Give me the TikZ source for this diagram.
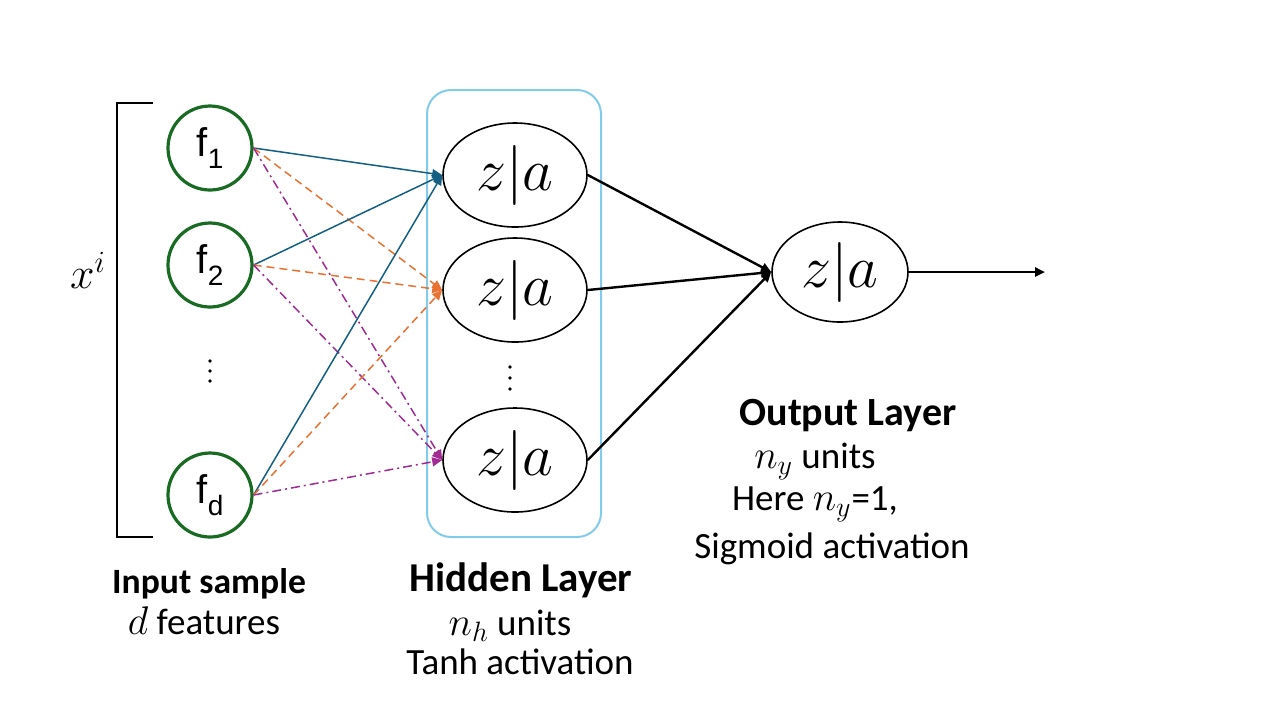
\RequirePackage{fix-cm}
\documentclass[tikz,border=0pt]{standalone}
\usepackage{fontspec}
\setmainfont{Carlito}
\newfontfamily\arialfont{Liberation Sans}
\usetikzlibrary{arrows.meta,shapes.geometric}

\definecolor{featgreen}{RGB}{25,107,36}
\definecolor{wblue}{RGB}{21,96,130}
\definecolor{worange}{RGB}{233,113,50}
\definecolor{wpurple}{RGB}{160,43,147}
\definecolor{boxblue}{RGB}{131,203,235}

\newcommand{\fsub}[1]{f\raisebox{-0.6ex}{\fontsize{14}{14}\selectfont #1}}
\newcommand{\lblmath}[1]{{\fontsize{20}{20}\selectfont$#1$}}

\tikzset{
  feat/.style={circle, draw=featgreen, line width=1.6pt, minimum size=42pt,
    inner sep=0pt, font=\arialfont\fontsize{20}{24}\selectfont},
  unit/.style={ellipse, draw, line width=0.8pt, minimum width=72pt,
    minimum height=52pt, inner sep=0pt, font=\fontsize{30}{32}\selectfont},
  wsolid/.style={wblue, line width=0.75pt, -{Triangle[length=5pt,width=4.5pt]}},
  wdash/.style={worange, line width=0.75pt, dash pattern=on 4pt off 2.5pt,
    -{Triangle[length=5pt,width=4.5pt]}},
  wdashdot/.style={wpurple, line width=0.75pt,
    dash pattern=on 4.5pt off 2pt on 1pt off 2pt,
    -{Triangle[length=5pt,width=4.5pt]}},
  wout/.style={line width=1.2pt, -{Triangle[length=5pt,width=4.5pt]}},
  lbl/.style={inner sep=0pt, font=\fontsize{18.5}{22}\selectfont},
  lblbold/.style={inner sep=0pt, font=\bfseries\fontsize{20.5}{24}\selectfont}
}

\begin{document}
\begin{tikzpicture}[x=0.5pt, y=-0.5pt]

  \useasboundingbox (0,0) rectangle (1280,720);

  % input sample bracket
  \draw[line width=0.8pt] (153,103) -- (117,103) -- (117,537) -- (153,537);
  \node[font=\fontsize{22}{24}\selectfont] (xi) at (88,270) {$x^i$};

  % hidden layer box
  \node[draw=boxblue, line width=1pt, rounded corners=12pt,
        minimum width=87pt, minimum height=223.5pt] (hbox) at (514,313.5) {};

  % input features
  \node[feat] (f1) at (210,148) {\fsub{1}};
  \node[feat] (f2) at (210,265) {\fsub{2}};
  \node[feat] (fd) at (210,495) {\fsub{d}};

  % hidden units
  \node[unit] (h1) at (515,175) {$z|a$};
  \node[unit] (h2) at (515,290) {$z|a$};
  \node[unit] (hn) at (515,460) {$z|a$};

  % vertical dots
  \foreach \y in {361,371,381} \fill (210,\y) circle (1.9);
  \foreach \y in {367,378,389} \fill (510,\y) circle (1.9);

  % output unit
  \node[unit, minimum width=68pt, minimum height=50pt] (out) at (840,272) {$z|a$};
  \coordinate (yhat) at (1045,272);

  % weights
  \foreach \f in {f1, f2, fd} {
    \draw[wsolid] (\f.east) -- (h1.west);
    \draw[wdash] (\f.east) -- (h2.west);
    \draw[wdashdot] (\f.east) -- (hn.west);
  }
  \foreach \h in {h1, h2, hn} {
    \draw[wout] (\h.east) -- (out.west);
  }
  \draw[wout] (out.east) -- (yhat);

  % layer captions
  \node[lblbold, font=\bfseries\fontsize{17.8}{21}\selectfont] (inlbl) at (209,584) {Input sample};
  \node[lbl] (infeat) at (204,621) {\lblmath{d} features};

  \node[lblbold] (hidlbl) at (521,580) {Hidden Layer};
  \node[lbl] (hidunits) at (510,626) {\lblmath{n_h} units};
  \node[lbl] (hidact) at (520,662) {Tanh activation};

  \node[lblbold, font=\bfseries\fontsize{20}{24}\selectfont] (outlbl) at (848,416) {Output Layer};
  \node[lbl] (outunits) at (815,461) {\lblmath{n_y} units};
  \node[lbl] (outhere) at (815,504) {Here \lblmath{n_y}=1,};
  \node[lbl] (outact) at (832,549) {Sigmoid activation};

\end{tikzpicture}
\end{document}
